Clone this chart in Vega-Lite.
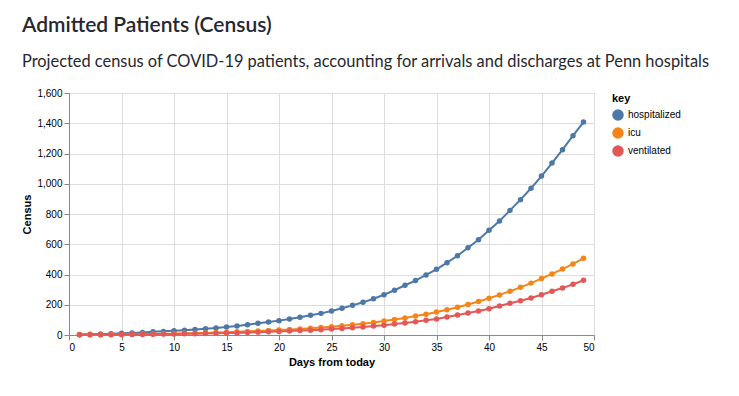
{
  "$schema": "https://vega.github.io/schema/vega-lite/v6.json",
  "width": 525,
  "height": 242,
  "autosize": {"type": "pad"},
  "padding": {"left": 21, "top": 14, "right": 5, "bottom": 5},
  "background": "white",
  "title": {
    "text": "Admitted Patients (Census)",
    "subtitle": "Projected census of COVID-19 patients, accounting for arrivals and discharges at Penn hospitals",
    "anchor": "start",
    "frame": "bounds",
    "font": "Lato",
    "fontSize": 21,
    "fontWeight": 600,
    "color": "#262730",
    "subtitleFont": "Lato",
    "subtitleFontSize": 16.4,
    "subtitleColor": "#262730",
    "subtitlePadding": 18,
    "offset": 18
  },
  "config": {
    "font": "Liberation Sans",
    "axis": {"labelFont": "Liberation Sans", "titleFont": "Liberation Sans"},
    "legend": {"labelFont": "Liberation Sans", "titleFont": "Liberation Sans"}
  },
  "data": {
    "values": [
      {"day": 1, "key": "hospitalized", "value": 3},
      {"day": 2, "key": "hospitalized", "value": 5},
      {"day": 3, "key": "hospitalized", "value": 7},
      {"day": 4, "key": "hospitalized", "value": 9},
      {"day": 5, "key": "hospitalized", "value": 12},
      {"day": 6, "key": "hospitalized", "value": 14},
      {"day": 7, "key": "hospitalized", "value": 17},
      {"day": 8, "key": "hospitalized", "value": 21},
      {"day": 9, "key": "hospitalized", "value": 24},
      {"day": 10, "key": "hospitalized", "value": 28},
      {"day": 11, "key": "hospitalized", "value": 32},
      {"day": 12, "key": "hospitalized", "value": 37},
      {"day": 13, "key": "hospitalized", "value": 42},
      {"day": 14, "key": "hospitalized", "value": 47},
      {"day": 15, "key": "hospitalized", "value": 53},
      {"day": 16, "key": "hospitalized", "value": 60},
      {"day": 17, "key": "hospitalized", "value": 68},
      {"day": 18, "key": "hospitalized", "value": 77},
      {"day": 19, "key": "hospitalized", "value": 86},
      {"day": 20, "key": "hospitalized", "value": 95},
      {"day": 21, "key": "hospitalized", "value": 106},
      {"day": 22, "key": "hospitalized", "value": 117},
      {"day": 23, "key": "hospitalized", "value": 130},
      {"day": 24, "key": "hospitalized", "value": 143},
      {"day": 25, "key": "hospitalized", "value": 159},
      {"day": 26, "key": "hospitalized", "value": 177},
      {"day": 27, "key": "hospitalized", "value": 196},
      {"day": 28, "key": "hospitalized", "value": 216},
      {"day": 29, "key": "hospitalized", "value": 240},
      {"day": 30, "key": "hospitalized", "value": 266},
      {"day": 31, "key": "hospitalized", "value": 296},
      {"day": 32, "key": "hospitalized", "value": 329},
      {"day": 33, "key": "hospitalized", "value": 360},
      {"day": 34, "key": "hospitalized", "value": 397},
      {"day": 35, "key": "hospitalized", "value": 434},
      {"day": 36, "key": "hospitalized", "value": 478},
      {"day": 37, "key": "hospitalized", "value": 524},
      {"day": 38, "key": "hospitalized", "value": 577},
      {"day": 39, "key": "hospitalized", "value": 630},
      {"day": 40, "key": "hospitalized", "value": 692},
      {"day": 41, "key": "hospitalized", "value": 754},
      {"day": 42, "key": "hospitalized", "value": 824},
      {"day": 43, "key": "hospitalized", "value": 895},
      {"day": 44, "key": "hospitalized", "value": 970},
      {"day": 45, "key": "hospitalized", "value": 1051},
      {"day": 46, "key": "hospitalized", "value": 1137},
      {"day": 47, "key": "hospitalized", "value": 1225},
      {"day": 48, "key": "hospitalized", "value": 1318},
      {"day": 49, "key": "hospitalized", "value": 1408},
      {"day": 1, "key": "icu", "value": 1},
      {"day": 2, "key": "icu", "value": 2},
      {"day": 3, "key": "icu", "value": 2},
      {"day": 4, "key": "icu", "value": 3},
      {"day": 5, "key": "icu", "value": 4},
      {"day": 6, "key": "icu", "value": 5},
      {"day": 7, "key": "icu", "value": 6},
      {"day": 8, "key": "icu", "value": 7},
      {"day": 9, "key": "icu", "value": 8},
      {"day": 10, "key": "icu", "value": 9},
      {"day": 11, "key": "icu", "value": 11},
      {"day": 12, "key": "icu", "value": 12},
      {"day": 13, "key": "icu", "value": 14},
      {"day": 14, "key": "icu", "value": 16},
      {"day": 15, "key": "icu", "value": 18},
      {"day": 16, "key": "icu", "value": 21},
      {"day": 17, "key": "icu", "value": 24},
      {"day": 18, "key": "icu", "value": 27},
      {"day": 19, "key": "icu", "value": 30},
      {"day": 20, "key": "icu", "value": 33},
      {"day": 21, "key": "icu", "value": 36},
      {"day": 22, "key": "icu", "value": 40},
      {"day": 23, "key": "icu", "value": 44},
      {"day": 24, "key": "icu", "value": 49},
      {"day": 25, "key": "icu", "value": 55},
      {"day": 26, "key": "icu", "value": 61},
      {"day": 27, "key": "icu", "value": 68},
      {"day": 28, "key": "icu", "value": 75},
      {"day": 29, "key": "icu", "value": 83},
      {"day": 30, "key": "icu", "value": 92},
      {"day": 31, "key": "icu", "value": 102},
      {"day": 32, "key": "icu", "value": 113},
      {"day": 33, "key": "icu", "value": 125},
      {"day": 34, "key": "icu", "value": 137},
      {"day": 35, "key": "icu", "value": 152},
      {"day": 36, "key": "icu", "value": 167},
      {"day": 37, "key": "icu", "value": 183},
      {"day": 38, "key": "icu", "value": 202},
      {"day": 39, "key": "icu", "value": 222},
      {"day": 40, "key": "icu", "value": 243},
      {"day": 41, "key": "icu", "value": 265},
      {"day": 42, "key": "icu", "value": 289},
      {"day": 43, "key": "icu", "value": 315},
      {"day": 44, "key": "icu", "value": 343},
      {"day": 45, "key": "icu", "value": 373},
      {"day": 46, "key": "icu", "value": 404},
      {"day": 47, "key": "icu", "value": 436},
      {"day": 48, "key": "icu", "value": 470},
      {"day": 49, "key": "icu", "value": 507},
      {"day": 1, "key": "ventilated", "value": 1},
      {"day": 2, "key": "ventilated", "value": 1},
      {"day": 3, "key": "ventilated", "value": 2},
      {"day": 4, "key": "ventilated", "value": 2},
      {"day": 5, "key": "ventilated", "value": 3},
      {"day": 6, "key": "ventilated", "value": 3},
      {"day": 7, "key": "ventilated", "value": 4},
      {"day": 8, "key": "ventilated", "value": 5},
      {"day": 9, "key": "ventilated", "value": 6},
      {"day": 10, "key": "ventilated", "value": 7},
      {"day": 11, "key": "ventilated", "value": 8},
      {"day": 12, "key": "ventilated", "value": 9},
      {"day": 13, "key": "ventilated", "value": 10},
      {"day": 14, "key": "ventilated", "value": 11},
      {"day": 15, "key": "ventilated", "value": 13},
      {"day": 16, "key": "ventilated", "value": 14},
      {"day": 17, "key": "ventilated", "value": 16},
      {"day": 18, "key": "ventilated", "value": 19},
      {"day": 19, "key": "ventilated", "value": 21},
      {"day": 20, "key": "ventilated", "value": 23},
      {"day": 21, "key": "ventilated", "value": 26},
      {"day": 22, "key": "ventilated", "value": 29},
      {"day": 23, "key": "ventilated", "value": 32},
      {"day": 24, "key": "ventilated", "value": 35},
      {"day": 25, "key": "ventilated", "value": 39},
      {"day": 26, "key": "ventilated", "value": 43},
      {"day": 27, "key": "ventilated", "value": 48},
      {"day": 28, "key": "ventilated", "value": 53},
      {"day": 29, "key": "ventilated", "value": 59},
      {"day": 30, "key": "ventilated", "value": 65},
      {"day": 31, "key": "ventilated", "value": 72},
      {"day": 32, "key": "ventilated", "value": 80},
      {"day": 33, "key": "ventilated", "value": 88},
      {"day": 34, "key": "ventilated", "value": 97},
      {"day": 35, "key": "ventilated", "value": 106},
      {"day": 36, "key": "ventilated", "value": 119},
      {"day": 37, "key": "ventilated", "value": 132},
      {"day": 38, "key": "ventilated", "value": 145},
      {"day": 39, "key": "ventilated", "value": 159},
      {"day": 40, "key": "ventilated", "value": 174},
      {"day": 41, "key": "ventilated", "value": 192},
      {"day": 42, "key": "ventilated", "value": 210},
      {"day": 43, "key": "ventilated", "value": 227},
      {"day": 44, "key": "ventilated", "value": 245},
      {"day": 45, "key": "ventilated", "value": 266},
      {"day": 46, "key": "ventilated", "value": 289},
      {"day": 47, "key": "ventilated", "value": 311},
      {"day": 48, "key": "ventilated", "value": 335},
      {"day": 49, "key": "ventilated", "value": 362}
    ]
  },
  "mark": {"type": "line", "point": {"filled": true, "size": 30}},
  "encoding": {
    "x": {"field": "day", "type": "quantitative", "title": "Days from today", "scale": {"domain": [0, 50]}},
    "y": {"field": "value", "type": "quantitative", "title": "Census", "scale": {"domain": [0, 1600]}},
    "color": {"field": "key", "type": "nominal", "title": "key", "legend": {"symbolType": "circle"}}
  }
}
